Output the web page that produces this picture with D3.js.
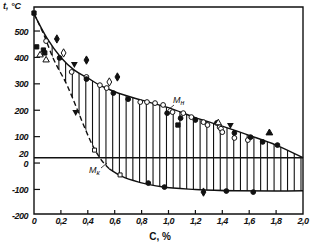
<!DOCTYPE html>
<html>
<head>
<meta charset="utf-8">
<script src="https://cdn.jsdelivr.net/npm/d3@7"></script>
<style>
  body { margin: 0; background: #fff; }
  text { font-family: "Liberation Sans", sans-serif; fill: #111; }
</style>
</head>
<body>
<script>
// carbon content, % -> temperature, °C
var upperC = [0, 0.1, 0.2, 0.3, 0.4, 0.5, 0.6, 0.8, 1.0, 1.2, 1.4, 1.6, 1.8, 2.0];
var upperT = [565, 470, 400, 352, 322, 292, 270, 238, 210, 172, 140, 105, 68, 20];

var lowerC = [0, 0.07, 0.14, 0.25, 0.32, 0.38, 0.44, 0.5, 0.56, 0.65, 0.8, 0.95, 1.2, 1.5, 1.8, 2.0];
var lowerT = [565, 490, 400, 290, 205, 130, 62, 12, -22, -50, -75, -90, -100, -105, -106, -105];
var dashedUntil = 0.56;

var openCircles = [[0.09, 462], [0.28, 345], [0.39, 326], [0.49, 295], [0.54, 284], [0.79, 231],
  [0.84, 231], [0.90, 227], [0.96, 220], [1.03, 193], [1.11, 189], [1.17, 174], [1.26, 155],
  [1.29, 144], [1.38, 136], [1.39, 130], [1.40, 117], [1.49, 95], [1.59, 87]];
var filledCircles = [[0.19, 398], [0.39, 318], [0.59, 265], [0.70, 242], [0.99, 189], [1.09, 170],
  [1.20, 163], [1.36, 152], [1.49, 114], [1.61, 98], [1.70, 80], [1.81, 68],
  [0.85, -76], [0.97, -91], [1.43, -106], [1.63, -110]];
var filledDiamonds = [[0.17, 470], [0.39, 390], [0.62, 326], [1.26, -110]];
var openDiamonds = [[0.22, 417], [0.56, 307]];
var filledSquares = [[0, 568], [0.02, 440], [0.07, 428], [0.08, 417], [1.07, 144]];
var openSquares = [[0.45, 49], [0.64, -45]];
var openTriangles = [[0.045, 409], [0.09, 390], [1.37, 152]];
var filledTrianglesDown = [[0.30, 375], [0.31, 193], [1.46, 144]];
var filledTrianglesUp = [[1.75, 114]];

var xTicks = [0, 0.2, 0.4, 0.6, 0.8, 1.0, 1.2, 1.4, 1.6, 1.8, 2.0];
var yTicks = [500, 400, 300, 200, 100, 20, 0, -100, -200];

var svg = d3.select('body').append('svg')
    .attr('width', 327)
    .attr('height', 242);

var x = d3.scaleLinear().domain([0, 2.0]).range([34, 303]);
var y = d3.scaleLinear().domain([-193, 591]).range([214, 7]);

var upper = upperC.map(function (c, i) { return [c, upperT[i]]; });
var lower = lowerC.map(function (c, i) { return [c, lowerT[i]]; });

var line = d3.line()
    .x(function (d) { return x(d[0]); })
    .y(function (d) { return y(d[1]); })
    .curve(d3.curveMonotoneX);

// clip: below upper curve, above lower curve
var defs = svg.append('defs');
defs.append('clipPath').attr('id', 'belowUpper').append('path')
    .attr('d', d3.area()
        .x(function (d) { return x(d[0]); })
        .y0(y(-193))
        .y1(function (d) { return y(d[1]); })
        .curve(d3.curveMonotoneX)(upper));
defs.append('clipPath').attr('id', 'aboveLower').append('path')
    .attr('d', d3.area()
        .x(function (d) { return x(d[0]); })
        .y0(y(591))
        .y1(function (d) { return y(d[1]); })
        .curve(d3.curveMonotoneX)(lower));

var hatch = svg.append('g').attr('clip-path', 'url(#belowUpper)')
    .append('g').attr('clip-path', 'url(#aboveLower)');
hatch.selectAll('line')
    .data(d3.range(0.035, 2.0, 0.05))
    .enter().append('line')
    .attr('x1', function (d) { return x(d); })
    .attr('x2', function (d) { return x(d); })
    .attr('y1', y(591))
    .attr('y2', y(-193))
    .attr('stroke', '#111')
    .attr('stroke-width', 1.1);

// 20 °C line
svg.append('line')
    .attr('x1', x(0)).attr('x2', x(2.0))
    .attr('y1', y(20)).attr('y2', y(20))
    .attr('stroke', '#111')
    .attr('stroke-width', 1.3);

// frame
svg.append('path')
    .attr('d', 'M' + x(0) + ',' + y(-193) + 'V' + y(591) + 'H' + x(2.0) + 'V' + y(-193) + 'Z')
    .attr('fill', 'none')
    .attr('stroke', '#111')
    .attr('stroke-width', 1.4);

// ticks
svg.selectAll('.xt')
    .data(xTicks.slice(1, -1))
    .enter().append('line')
    .attr('x1', function (d) { return x(d); })
    .attr('x2', function (d) { return x(d); })
    .attr('y1', y(-193))
    .attr('y2', y(-193) - 4)
    .attr('stroke', '#111')
    .attr('stroke-width', 1.2);
svg.selectAll('.yt')
    .data(yTicks.filter(function (d) { return d != 20 && d != -200; }))
    .enter().append('line')
    .attr('x1', x(0))
    .attr('x2', x(0) + 6)
    .attr('y1', function (d) { return y(d); })
    .attr('y2', function (d) { return y(d); })
    .attr('stroke', '#111')
    .attr('stroke-width', 1.2);

// tick labels
svg.selectAll('.xl')
    .data(xTicks)
    .enter().append('text')
    .attr('x', function (d) { return x(d); })
    .attr('y', 224)
    .attr('text-anchor', 'middle')
    .attr('font-size', 9)
    .attr('font-style', 'italic')
    .attr('font-weight', 'bold')
    .attr('letter-spacing', -0.5)
    .text(function (d) { return d == 0 ? '0' : d.toFixed(1).replace('.', ','); });

svg.selectAll('.yl')
    .data(yTicks)
    .enter().append('text')
    .attr('x', 28)
    .attr('y', function (d) {
        if (d == 20) return y(20) - 1;
        if (d == 0) return y(0) + 4;
        return y(d) + 3.5;
    })
    .attr('text-anchor', 'end')
    .attr('font-size', 9)
    .attr('font-style', 'italic')
    .attr('font-weight', 'bold')
    .attr('letter-spacing', -0.5)
    .text(function (d) { return d < 0 ? '-' + Math.abs(d) : d; });

svg.append('text')
    .attr('x', 3).attr('y', 9)
    .attr('font-size', 9)
    .attr('font-style', 'italic')
    .attr('font-weight', 'bold')
    .text('t, °C');

svg.append('text')
    .attr('x', 160).attr('y', 240)
    .attr('text-anchor', 'middle')
    .attr('font-size', 10)
    .attr('font-weight', 'bold')
    .text('C, %');

// curves
svg.append('path')
    .attr('d', line(upper))
    .attr('fill', 'none')
    .attr('stroke', '#111')
    .attr('stroke-width', 1.4);
svg.append('path')
    .attr('d', line(lower.filter(function (d) { return d[0] <= dashedUntil; })))
    .attr('fill', 'none')
    .attr('stroke', '#111')
    .attr('stroke-width', 1.4)
    .attr('stroke-dasharray', '5,3');
svg.append('path')
    .attr('d', line(lower.filter(function (d) { return d[0] >= dashedUntil; })))
    .attr('fill', 'none')
    .attr('stroke', '#111')
    .attr('stroke-width', 1.4);

// markers
function marks(data, type, fill, size) {
    svg.append('g').selectAll('path')
        .data(data)
        .enter().append('path')
        .attr('transform', function (d) { return 'translate(' + x(d[0]) + ',' + y(d[1]) + ')'; })
        .attr('d', d3.symbol().type(type).size(size))
        .attr('fill', fill)
        .attr('stroke', '#111')
        .attr('stroke-width', 1);
}
marks(openCircles, d3.symbolCircle, '#fff', 18);
marks(filledCircles, d3.symbolCircle, '#111', 18);
marks(filledDiamonds, d3.symbolDiamond, '#111', 20);
marks(openDiamonds, d3.symbolDiamond, '#fff', 20);
marks(filledSquares, d3.symbolSquare, '#111', 18);
marks(openSquares, d3.symbolSquare, '#fff', 16);
marks(openTriangles, d3.symbolTriangle, '#fff', 18);
svg.append('g').selectAll('path')
    .data(filledTrianglesDown)
    .enter().append('path')
    .attr('transform', function (d) { return 'translate(' + x(d[0]) + ',' + y(d[1]) + ') rotate(180)'; })
    .attr('d', d3.symbol().type(d3.symbolTriangle).size(20))
    .attr('fill', '#111');
marks(filledTrianglesUp, d3.symbolTriangle, '#111', 20);

// curve labels
function curveLabel(lx, ly, sub, x1, y1, x2, y2) {
    var t = svg.append('text')
        .attr('x', lx).attr('y', ly)
        .attr('font-size', 9)
        .attr('font-style', 'italic');
    t.append('tspan').text('M');
    t.append('tspan').attr('font-size', 7).attr('dy', 2).text(sub);
    svg.append('line')
        .attr('x1', x1).attr('y1', y1)
        .attr('x2', x2).attr('y2', y2)
        .attr('stroke', '#111')
        .attr('stroke-width', 0.8);
}
curveLabel(173, 103, 'н', 174, 105, 168, 110);
curveLabel(89, 173, 'к', 101, 168, 107, 163);
</script>
</body>
</html>
